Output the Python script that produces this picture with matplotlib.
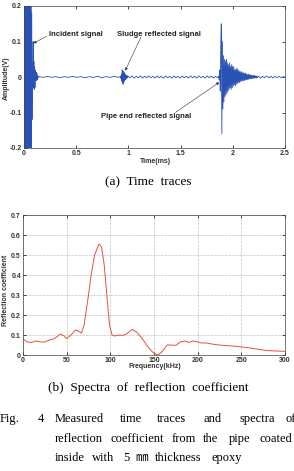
"""Time traces and reflection coefficient spectrum (Fig. 4)."""
import matplotlib
matplotlib.use("Agg")
import matplotlib.pyplot as plt
import numpy as np

# ---- time trace data (amplitude in V, sampled on a fixed grid per segment) ----
incident_start, incident_step = 0.0, 0.0035
incident_amp = [0.0, 0.35, -0.4, 0.45, -0.45, 0.5, -0.5, 0.45, -0.5, 0.5,
                -0.45, 0.45, -0.4, 0.4, -0.35, 0.35, -0.3, 0.3, -0.25, 0.25,
                -0.22, 0.18, -0.12, 0.04, -0.02, 0.1, -0.03, 0.045, -0.035, 0.03,
                -0.03, 0.02, -0.01, 0.013, -0.01, 0.012, -0.008, 0.005, -0.003, 0.002]

base1_start, base1_step = 0.145, 0.04
base1_amp = [0.001, -0.001, 0.002, -0.001, 0.001, -0.002, 0.001, -0.001, 0.002, -0.001,
             0.001, -0.002, 0.001, -0.001, 0.002, -0.002, 0.001, -0.001, 0.002, -0.001]

sludge_start, sludge_step = 0.925, 0.004
sludge_amp = [0.002, -0.004, 0.008, -0.012, 0.02, -0.018, 0.016, -0.02, 0.014, -0.012,
              0.01, -0.008, 0.006, -0.005, 0.004, -0.003, 0.003, -0.002]

base2_start, base2_step = 0.995, 0.02
base2_amp = [0.003, -0.002, 0.003, -0.003, 0.002, -0.002, 0.003, -0.003, 0.002, -0.002,
             0.003, -0.002, 0.002, -0.003, 0.003, -0.002, 0.002, -0.003, 0.003, -0.002,
             0.002, -0.003, 0.003, -0.002, 0.002, -0.003, 0.003, -0.002, 0.002, -0.003,
             0.003, -0.002, 0.002, -0.003, 0.003, -0.002, 0.002, -0.003, 0.003, -0.002,
             0.002, -0.003, 0.002, -0.002]

pipe_start, pipe_step = 1.865, 0.005
pipe_amp = [0.003, -0.008, 0.02, -0.04, 0.09, 0.15, -0.16, 0.1, -0.09, 0.06,
            -0.07, 0.05, -0.055, 0.045, -0.05, 0.05, -0.045, 0.04, -0.04, 0.035,
            -0.035, 0.04, -0.03, 0.03, -0.035, 0.035, -0.03, 0.03, -0.025, 0.028,
            -0.022, 0.02, -0.025, 0.022, -0.02, 0.025, -0.018, 0.02, -0.015, 0.018,
            -0.016, 0.014, -0.012, 0.016, -0.012, 0.012, -0.01, 0.013, -0.011, 0.01,
            -0.009, 0.011, -0.008, 0.009, -0.008, 0.007, -0.007, 0.008, -0.006, 0.006,
            -0.005, 0.006, -0.005, 0.005, -0.004, 0.004, -0.004, 0.005, -0.003, 0.004,
            -0.003, 0.003, -0.003, 0.003, -0.002]

base3_start, base3_step = 2.245, 0.02
base3_amp = [0.002, -0.003, 0.002, -0.002, 0.003, -0.002, 0.002, -0.003, 0.002, -0.002,
             0.002, -0.002, 0.001, -0.001]

segments = [
    (incident_start, incident_step, incident_amp),
    (base1_start, base1_step, base1_amp),
    (sludge_start, sludge_step, sludge_amp),
    (base2_start, base2_step, base2_amp),
    (pipe_start, pipe_step, pipe_amp),
    (base3_start, base3_step, base3_amp),
]
time_ms = np.concatenate([s + st * np.arange(len(a)) for s, st, a in segments])
amplitude = np.concatenate([np.array(a) for _, _, a in segments])

# ---- reflection coefficient spectrum ----
freq_khz = [0, 5, 10, 15, 20, 25, 30, 35, 40, 43, 47, 50, 55, 60, 63, 67, 70, 75,
            78, 82, 87, 90, 93, 96, 99, 102, 105, 110, 115, 120, 125, 130, 135, 140,
            145, 150, 155, 160, 165, 170, 175, 180, 185, 190, 195, 200, 205, 210,
            220, 230, 240, 250, 260, 270, 280, 290, 300]
refl_coef = [0.08, 0.065, 0.063, 0.07, 0.065, 0.065, 0.075, 0.08, 0.095, 0.105, 0.095,
             0.082, 0.1, 0.125, 0.12, 0.11, 0.15, 0.3, 0.4, 0.5, 0.555, 0.54, 0.45, 0.3,
             0.15, 0.1, 0.095, 0.1, 0.098, 0.11, 0.128, 0.115, 0.09, 0.06, 0.03, 0.008,
             0.0, 0.02, 0.05, 0.05, 0.048, 0.065, 0.07, 0.063, 0.07, 0.065, 0.06, 0.06,
             0.052, 0.048, 0.045, 0.04, 0.035, 0.028, 0.022, 0.02, 0.018]

time_ticks = [0, 0.5, 1, 1.5, 2, 2.5]
amp_ticks = [-0.2, -0.1, 0, 0.1, 0.2]
freq_ticks = [0, 50, 100, 150, 200, 250, 300]
coef_ticks = [0, 0.1, 0.2, 0.3, 0.4, 0.5, 0.6, 0.7]

W, H = 294, 471
fig = plt.figure(figsize=(W / 100, H / 100), dpi=100)
sans = "Liberation Sans"
serif = ["Liberation Serif", "Noto Sans CJK KR"]


def style_axes(ax):
    ax.tick_params(direction="in", length=2.5, width=0.5, labelsize=5,
                   top=True, right=True, pad=1.5)
    for lab in ax.get_xticklabels() + ax.get_yticklabels():
        lab.set_fontfamily(sans)
        lab.set_fontweight("bold")
        lab.set_color("#333333")
    for sp in ax.spines.values():
        sp.set_linewidth(0.5)
        sp.set_color("#444444")


# (a) time traces
ax1 = fig.add_axes([24 / W, 1 - 148 / H, 261 / W, 142 / H])
ax1.plot(time_ms, amplitude, color="#2a52b4", lw=0.6)
ax1.set_xlim(0, 2.5)
ax1.set_ylim(-0.2, 0.2)
ax1.set_xticks(time_ticks)
ax1.set_xticklabels(["0", "0.5", "1", "1.5", "2", "2.5"])
ax1.set_yticks(amp_ticks)
ax1.set_yticklabels(["-0.2", "-0.1", "0", "0.1", "0.2"])
style_axes(ax1)

arrow = dict(arrowstyle="-|>", color="#333333", lw=0.4,
             mutation_scale=4, shrinkA=0, shrinkB=0)
label_kw = dict(fontsize=5.5, fontweight="bold", family=sans, color="#222222",
                va="center", ha="left")
ax1.annotate("", xy=(0.09, 0.095), xytext=(0.22, 0.115), arrowprops=arrow)
ax1.text(0.24, 0.12, "Incident signal", **label_kw)
ax1.annotate("", xy=(0.97, 0.018), xytext=(1.12, 0.112), arrowprops=arrow)
ax1.text(0.89, 0.12, "Sludge reflected signal", **label_kw)
ax1.annotate("", xy=(1.87, -0.015), xytext=(1.45, -0.1), arrowprops=arrow)
ax1.text(0.74, -0.11, "Pipe end reflected signal", **label_kw)

fig.text(155 / W, 1 - 162 / H, "Time(ms)", fontsize=5, fontweight="bold",
         family=sans, ha="center", va="center", color="#333333")
fig.text(6 / W, 1 - 78 / H, "Amplitude(V)", fontsize=5, fontweight="bold",
         family=sans, ha="center", va="center", rotation=90, color="#333333")
fig.text(148 / W, 1 - 182 / H, "(a)  Time  traces", fontsize=9.5, family=serif,
         ha="center", va="center")

# (b) spectra of reflection coefficient
ax2 = fig.add_axes([23 / W, 1 - 355 / H, 262 / W, 140 / H])
ax2.plot(freq_khz, refl_coef, color="#e8503a", lw=0.7)
ax2.set_xlim(0, 300)
ax2.set_ylim(0, 0.7)
ax2.set_xticks(freq_ticks)
ax2.set_yticks(coef_ticks)
ax2.set_yticklabels(["0", "0.1", "0.2", "0.3", "0.4", "0.5", "0.6", "0.7"])
ax2.grid(True, ls=(0, (1, 1.5)), lw=0.4, color="#777777")
style_axes(ax2)

fig.text(155 / W, 1 - 367 / H, "Frequency(kHz)", fontsize=5, fontweight="bold",
         family=sans, ha="center", va="center", color="#333333")
fig.text(6 / W, 1 - 290 / H, "Reflection coefficient", fontsize=5, fontweight="bold",
         family=sans, ha="center", va="center", rotation=90, color="#333333")
fig.text(148 / W, 1 - 388 / H, "(b)  Spectra  of  reflection  coefficient",
         fontsize=9.5, family=serif, ha="center", va="center")

# figure caption, placed word by word to mimic the justified layout
caption = [
    (419, [(0, "Fig."), (38, "4"), (55, "Measured"), (120, "time"), (157, "traces"),
           (203, "and"), (240, "spectra"), (285, "of")]),
    (439, [(55, "reflection"), (111, "coefficient"), (172, "from"), (203, "the"),
           (229, "pipe"), (260, "coated")]),
    (458, [(55, "inside"), (92, "with"), (123, "5"), (135, "㎜"),
           (155, "thickness"), (212, "epoxy")]),
]
for y, words in caption:
    for x, word in words:
        fig.text(x / W, 1 - y / H, word, fontsize=9, family=serif,
                 ha="left", va="center")

fig.savefig("out.png", dpi=100)
